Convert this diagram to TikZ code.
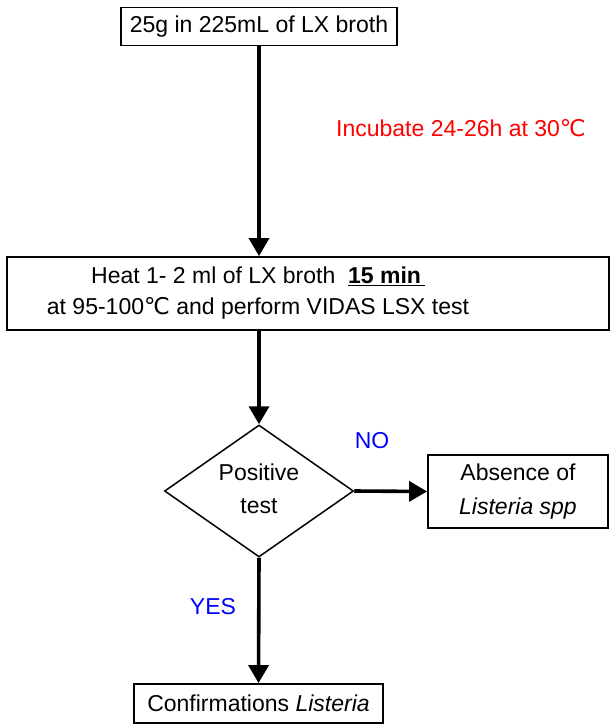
\documentclass[tikz,border=0pt]{standalone}
\usepackage{fontspec}
\setmainfont{Liberation Sans}
\newfontfamily\dejavu{DejaVu Sans}
\usetikzlibrary{arrows.meta,shapes.geometric}
\newcommand{\degc}{{\dejavu ℃}}
\begin{document}
\begin{tikzpicture}[x=1pt,y=-1pt,
  every node/.style={font=\fontsize{23}{31}\selectfont, inner sep=0pt},
  boxnode/.style={draw, line width=1.8pt, rectangle},
  decision/.style={draw, line width=1.5pt, diamond, aspect=1.43, minimum width=189pt, minimum height=132pt},
  flow/.style={line width=3.6pt, -{Triangle[length=18pt,width=20pt]}},
  rlabel/.style={text=red},
  blabel/.style={text=blue}]
\useasboundingbox (0,0) rectangle (611,725);
% boxes
\node[boxnode, minimum width=276pt, minimum height=38pt] (b1) at (259,26.5) {25g in 225mL of LX broth};
\node[boxnode, minimum width=602pt, minimum height=73pt] (b2) at (308,293.5) {};
\node[align=center] (b2t) at (258,293) {Heat 1- 2 ml of LX broth \ \underline{\textbf{15 min}\,}\\at 95-100\degc{} and perform VIDAS LSX test};
\node[decision] (d) at (259,491) {};
\node[align=center, font=\fontsize{23}{33}\selectfont] (dt) at (259,489) {Positive\\test};
\node[boxnode, minimum width=180pt, minimum height=73pt, align=center, font=\fontsize{23}{34}\selectfont] (b3) at (518,491.5) {Absence of\\\textit{Listeria spp}};
\node[boxnode, minimum width=249pt, minimum height=39pt] (b4) at (258.5,703.5) {Confirmations \textit{Listeria}};
% labels
\node[rlabel] (l1) at (461,128) {Incubate 24-26h at 30\degc};
\node[blabel] (l2) at (372,441) {NO};
\node[blabel] (l3) at (213,607) {YES};
% connectors
\draw[flow] (b1.south) -- (b1.south |- b2.north);
\draw[flow] (b1.south |- b2.south) -- (d.north);
\draw[flow] (d.east) -- (b3.west);
\draw[flow] (d.south) -- (b4.north);
\end{tikzpicture}
\end{document}
